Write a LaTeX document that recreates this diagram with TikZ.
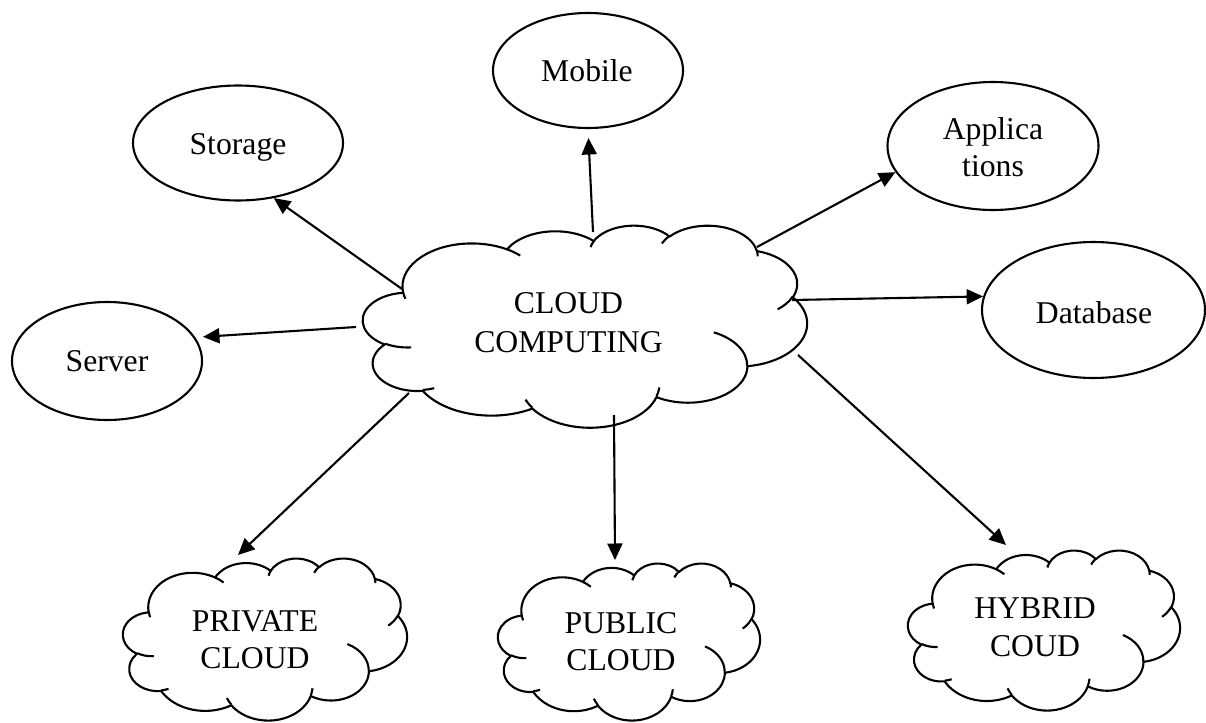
\documentclass[tikz,border=0pt]{standalone}
\usepackage{fontspec}
\setmainfont{Liberation Serif}
\usetikzlibrary{shapes.geometric,arrows.meta}

% elliptical arc in OOXML style (visual angles, clockwise on screen)
\newcommand\carc[4]{arc[start angle={-atan2((#1)*sin(#3),(#2)*cos(#3))}, delta angle={-Mod(atan2((#1)*sin((#3)+(#4)),(#2)*cos((#3)+(#4)))-atan2((#1)*sin(#3),(#2)*cos(#3)),360)}, x radius=#1pt, y radius=#2pt]}

\newcommand\cloudpath{(39.00,143.70) \carc{67.53}{91.90}{-190.4875}{123.7805}
\carc{53.33}{72.67}{-144.1024}{89.9452}
\carc{43.65}{59.45}{-145.8079}{99.7230}
\carc{48.57}{65.95}{-130.9861}{117.2417}
\carc{53.33}{72.73}{-78.7089}{109.0269}
\carc{67.75}{92.20}{-46.2673}{130.2690}
\carc{57.85}{78.67}{0.6250}{114.0333}
\carc{67.52}{92.15}{22.4516}{115.1726}
\carc{77.20}{105.43}{66.2426}{75.7110}
\carc{43.60}{59.18}{-274.9421}{146.7356}
\carc{43.45}{59.45}{-246.8285}{152.5189} -- cycle}

\newcommand\cloudinner{(46.93,261.77) \carc{43.45}{59.45}{86.7420}{26.4295}
(69.28,348.99) \carc{43.60}{59.18}{73.6105}{11.4475}
(164.78,390.90) \carc{67.52}{92.15}{137.6242}{14.0811}
(288.27,347.51) \carc{67.52}{92.15}{6.4533}{15.9984}
(341.29,229.54) \carc{57.85}{78.67}{-70.2924}{70.9174}
(417.98,153.54) \carc{53.33}{72.73}{30.3180}{27.7515}
(383.24,54.26) \carc{48.57}{65.95}{-13.7443}{14.8589}
(290.78,39.52) \carc{48.57}{65.95}{-149.1815}{18.1954}
(221.41,47.20) \carc{43.65}{59.45}{-163.4943}{17.6864}
(140.00,51.92) \carc{67.53}{91.90}{-66.7070}{12.3194}
(41.27,157.89) \carc{67.53}{91.90}{157.6544}{11.8582}}

% x y xscale yscale
\newcommand\drawcloud[4]{%
\begin{scope}[shift={(#1,#2)}, xscale=#3, yscale=#4]
\draw[cloudln, fill=white] \cloudpath;
\draw[cloudln] \cloudinner;
\end{scope}}

\begin{document}
\begin{tikzpicture}[x=1pt,y=-1pt,
  oval/.style={ellipse, draw, line width=2.1pt, inner sep=0pt},
  lbl/.style={anchor=base, inner sep=0pt, font=\fontsize{31.7pt}{38pt}\selectfont},
  cloudln/.style={line width=2.1pt, line join=round},
  arr/.style={line width=2.1pt, -{Triangle[length=16.5pt,width=15pt]}}]
\useasboundingbox (0,0) rectangle (1206,722);

% clouds
\drawcloud{363}{225}{1.02778}{0.46759}
\drawcloud{123}{558}{0.65741}{0.375}
\drawcloud{498}{563}{0.60648}{0.36343}
\drawcloud{908}{550}{0.62963}{0.37037}

% cloud labels
\node[lbl] (cc) at (568.5,313) {\begin{tabular}[t]{@{}c@{}}CLOUD\\[1pt]COMPUTING\end{tabular}};
\node[lbl] (pri) at (255,631) {\begin{tabular}[t]{@{}c@{}}PRIVATE\\[-1pt]CLOUD\end{tabular}};
\node[lbl] (pub) at (621,633) {\begin{tabular}[t]{@{}c@{}}PUBLIC\\[-1pt]CLOUD\end{tabular}};
\node[lbl] (hyb) at (1035,618) {\begin{tabular}[t]{@{}c@{}}HYBRID\\COUD\end{tabular}};

% ellipses
\node[oval, minimum width=210pt, minimum height=115pt] (storage) at (238,143) {};
\node[oval, minimum width=190pt, minimum height=118pt] (server) at (107,361) {};
\node[oval, minimum width=190pt, minimum height=115pt] (mobile) at (588,70.5) {};
\node[oval, minimum width=211pt, minimum height=128pt] (app) at (993,146) {};
\node[oval, minimum width=223pt, minimum height=136pt] (db) at (1093.5,310) {};

\node[lbl] (storage-t) at (238,155) {Storage};
\node[lbl] (server-t) at (107,371) {Server};
\node[lbl] (mobile-t) at (587,82) {Mobile};
\node[lbl] (app-t) at (993,140) {\begin{tabular}[t]{@{}c@{}}Applica\\[-1pt]tions\end{tabular}};
\node[lbl] (db-t) at (1094,323) {Database};

% connector end points on the clouds
\coordinate (cc-sto) at (402,289);
\coordinate (cc-ser) at (356,327);
\coordinate (cc-mob) at (593,232);
\coordinate (cc-app) at (757,247);
\coordinate (cc-db) at (792,300);
\coordinate (cc-hyb) at (798,355);
\coordinate (cc-pub) at (614,415);
\coordinate (cc-pri) at (409,393);
\coordinate (pri-in) at (238,555);
\coordinate (pub-in) at (615,560);
\coordinate (hyb-in) at (1006,545);

% connectors
\draw[arr] (cc-sto) -- (storage.-57);
\draw[arr, shorten >=7.7pt] (cc-ser) -- (server.15);
\draw[arr, shorten >=9pt] (cc-mob) -- (mobile.south);
\draw[arr] (cc-app) -- (app.195);
\draw[arr] (cc-db) -- (db.173);
\draw[arr] (cc-hyb) -- (hyb-in);
\draw[arr] (cc-pub) -- (pub-in);
\draw[arr] (cc-pri) -- (pri-in);
\end{tikzpicture}
\end{document}
